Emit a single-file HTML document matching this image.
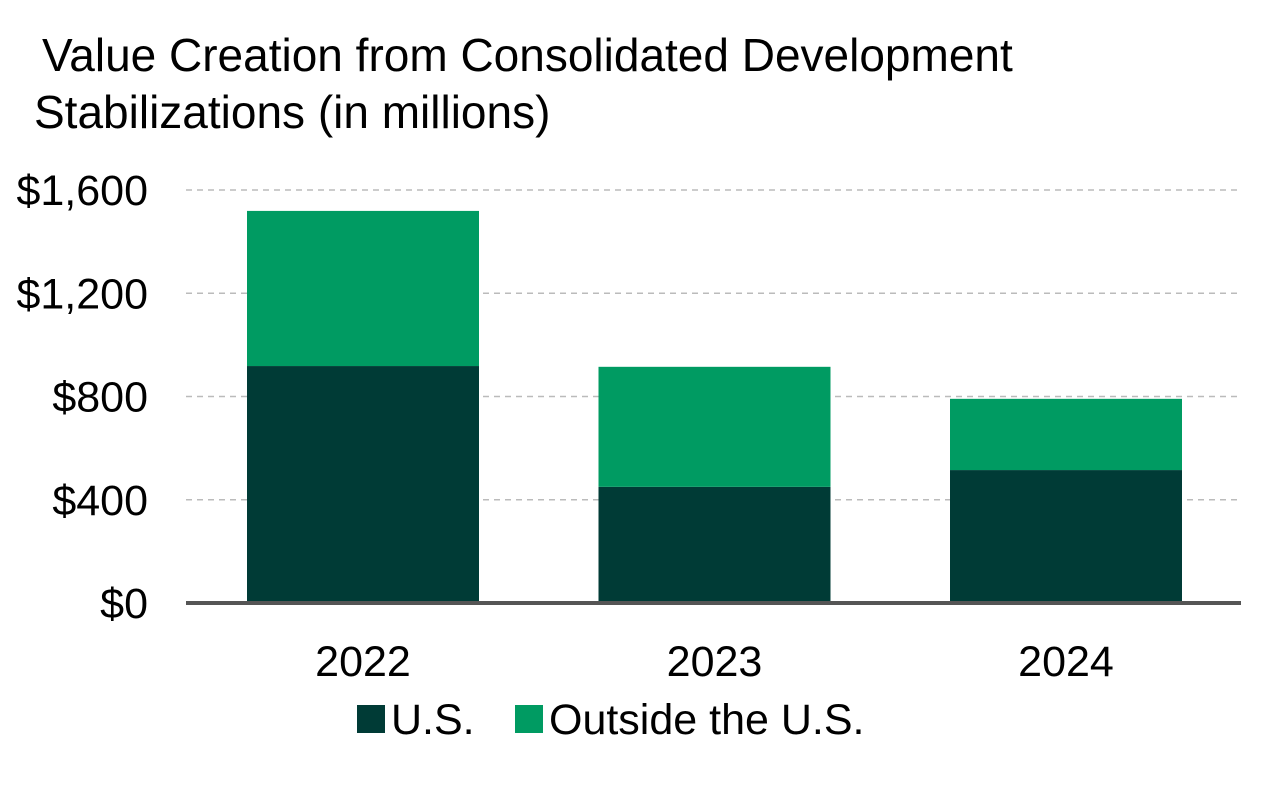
<!DOCTYPE html>
<html><head><meta charset="utf-8"><style>
body{margin:0;background:#fff;width:1279px;height:791px;overflow:hidden;font-family:"Liberation Sans",Arial,sans-serif;}
</style></head><body>
<svg width="1279" height="791" xmlns="http://www.w3.org/2000/svg" font-family="Liberation Sans, Arial, sans-serif">
<text x="42" y="71" font-size="46" fill="#000">Value Creation from Consolidated Development</text>
<text x="34" y="128" font-size="46" fill="#000">Stabilizations (in millions)</text>
<g id="grid"></g>
<g id="bars"></g>
<g id="ticks"></g>
<line x1="186" y1="603" x2="1241" y2="603" stroke="#555" stroke-width="4"/>
<g>
<rect x="357" y="705" width="28" height="28" fill="#003b36"/>
<text x="391" y="734" font-size="43">U.S.</text>
<rect x="515" y="705" width="28" height="28" fill="#009b62"/>
<text x="549" y="734" font-size="43">Outside the U.S.</text>
</g>
</svg>
<script>
const categories=["2022","2023","2024"];
const usValues=[918,450,515];
const outsideValues=[601,465,276];
const tickValues=[0,400,800,1200,1600];
const tickLabels=["$0","$400","$800","$1,200","$1,600"];
const NS="http://www.w3.org/2000/svg";
const y=v=>603-v*(413/1600);
const x=i=>247+i*351.5;
const bw=232;
const grid=document.getElementById('grid'),bars=document.getElementById('bars'),ticks=document.getElementById('ticks');
tickValues.forEach((v,i)=>{
 if(v>0){const l=document.createElementNS(NS,'line');
 l.setAttribute('x1',186);l.setAttribute('x2',1241);l.setAttribute('y1',y(v));l.setAttribute('y2',y(v));
 l.setAttribute('stroke','#bbb');l.setAttribute('stroke-width','1.5');l.setAttribute('stroke-dasharray','6,5');
 
 
 grid.appendChild(l);}
 const t=document.createElementNS(NS,'text');
 t.setAttribute('x',148);t.setAttribute('y',y(v)+15);t.setAttribute('text-anchor','end');t.setAttribute('font-size','43');
 t.textContent=tickLabels[i];
 
 
 ticks.appendChild(t);
});
categories.forEach((c,i)=>{
 const u=document.createElementNS(NS,'rect');
 u.setAttribute('x',x(i));u.setAttribute('width',bw);u.setAttribute('y',y(usValues[i]));u.setAttribute('height',y(0)-y(usValues[i]));u.setAttribute('fill','#003b36');
 
 
 bars.appendChild(u);
 const o=document.createElementNS(NS,'rect');
 const top=usValues[i]+outsideValues[i];
 o.setAttribute('x',x(i));o.setAttribute('width',bw);o.setAttribute('y',y(top));o.setAttribute('height',y(usValues[i])-y(top));o.setAttribute('fill','#009b62');
 
 
 bars.appendChild(o);
 const t=document.createElementNS(NS,'text');
 t.setAttribute('x',x(i)+bw/2);t.setAttribute('y',676);t.setAttribute('text-anchor','middle');t.setAttribute('font-size','43');
 t.textContent=c;
 
 
 ticks.appendChild(t);
});
</script>
</body></html>
